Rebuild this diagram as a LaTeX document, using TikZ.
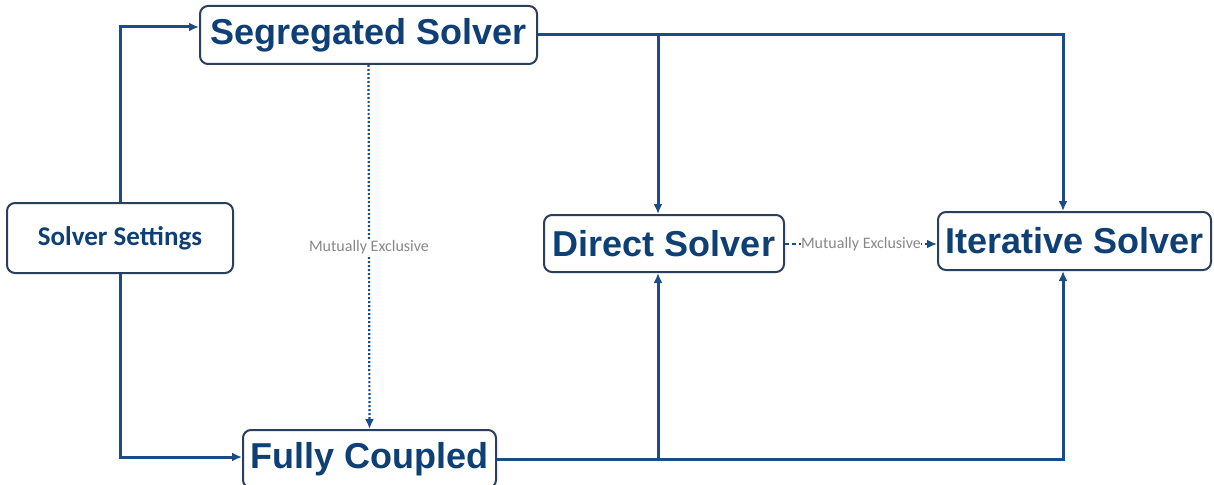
\documentclass[tikz,border=0pt]{standalone}
\usepackage{fontspec}
\setmainfont{Liberation Sans}
\newfontfamily\calib{Carlito}
\usetikzlibrary{arrows.meta}
\definecolor{navy}{HTML}{0E3F75}
\definecolor{lineblue}{HTML}{1A4C88}
\definecolor{boxline}{HTML}{2A3F5C}
\definecolor{lblgray}{HTML}{888888}
\tikzset{
  box/.style={draw=boxline, line width=2pt, rounded corners=8pt, fill=white,
    text=navy, font=\fontsize{36}{40}\selectfont\bfseries, inner sep=0pt, align=center},
  conn/.style={draw=lineblue, line width=3pt, -{Latex[length=10pt,width=9pt]}},
  lbl/.style={text=lblgray, font=\calib\fontsize{16}{18}\selectfont, fill=white, inner sep=1pt},
}
\begin{document}
\begin{tikzpicture}[x=1pt,y=-1pt]
\useasboundingbox (0,0) rectangle (1214,484);
\node[box, minimum width=337pt, minimum height=58pt] (seg) at (368.5,35) {Segregated Solver};
\node[box, minimum width=226pt, minimum height=70pt, font=\calib\fontsize{27}{30}\selectfont\bfseries] (set) at (120,238) {Solver Settings};
\node[box, minimum width=240pt, minimum height=57pt] (dir) at (664,243.5) {Direct Solver};
\node[box, minimum width=273pt, minimum height=58pt] (itr) at (1074.5,241) {Iterative Solver};
\node[box, minimum width=253pt, minimum height=58pt] (fc) at (369.5,459) {Fully Coupled};

\coordinate (c1) at (120,27);
\coordinate (c2) at (120,457);
\coordinate (c3) at (1063,35);
\coordinate (c4) at (658,35);
\coordinate (c5) at (1063,459);
\coordinate (c6) at (658,459);

\draw[conn] (set.north) -- (c1) -- (c1 -| seg.west);
\draw[conn] (set.south) -- (c2) -- (c2 -| fc.west);
\draw[conn] (seg.east |- c3) -- (c3) -- (c3 |- itr.north);
\draw[conn] (c4) -- (c4 |- dir.north);
\draw[conn] (fc.east |- c5) -- (c5) -- (c5 |- itr.south);
\draw[conn] (c6) -- (c6 |- dir.south);

\draw[draw=lineblue, line width=2.2pt, dash pattern=on 2pt off 2pt, -{Latex[length=10pt,width=9pt]}] (seg.south) -- node[lbl] (m1) {Mutually Exclusive} (fc.north);
\draw[draw=lineblue, line width=2.2pt, dash pattern=on 4pt off 3pt, -{Latex[length=10pt,width=9pt]}] (dir.east |- 0,244) -- node[lbl, inner sep=0.5pt] (m2) {Mutually Exclusive} (itr.west |- 0,244);
\end{tikzpicture}
\end{document}
